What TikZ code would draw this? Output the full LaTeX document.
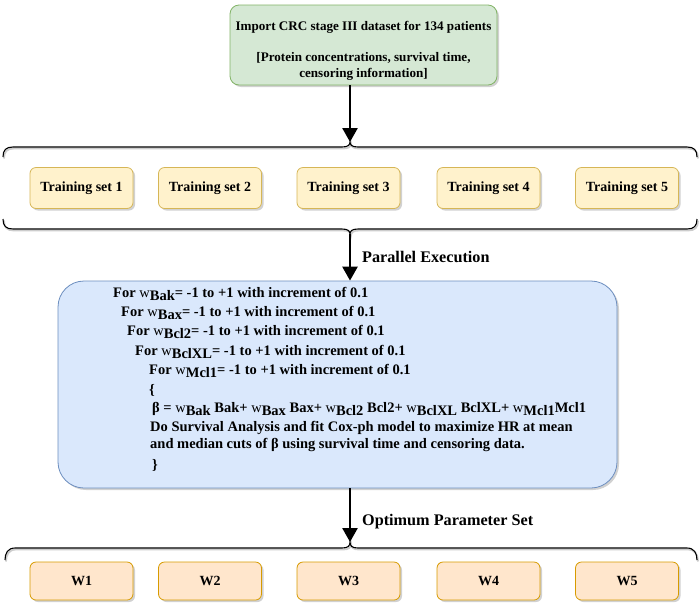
\documentclass[tikz,border=0pt]{standalone}
\usepackage{fontspec}
\setmainfont{Liberation Serif}
\usetikzlibrary{shadows,arrows.meta}
\definecolor{gfill}{HTML}{D5E8D4}
\definecolor{gline}{HTML}{82B366}
\definecolor{yfill}{HTML}{FFF2CC}
\definecolor{yline}{HTML}{D6B656}
\definecolor{bfill}{HTML}{DAE8FC}
\definecolor{bline}{HTML}{6C8EBF}
\definecolor{ofill}{HTML}{FFE6CC}
\definecolor{oline}{HTML}{D79B00}
\newcommand{\wsub}[1]{{\mdseries w}\raisebox{-3.5pt}{#1}}
\newcommand{\wlow}[1]{{\mdseries w}\raisebox{-2.8pt}{#1}}
\begin{document}
\begin{tikzpicture}[x=1pt,y=-1pt,
  font=\bfseries\fontsize{14}{16}\selectfont,
  shad/.style={drop shadow={shadow xshift=2pt,shadow yshift=-2pt,opacity=0.3,fill=black!60}},
  gbox/.style={draw=gline,fill=gfill,line width=0.8pt,rounded corners=9pt,shad,minimum width=267pt,minimum height=80pt,inner sep=0pt},
  tbox/.style={draw=yline,fill=yfill,line width=0.8pt,rounded corners=6pt,shad,minimum width=103pt,minimum height=41pt,inner sep=0pt},
  wbox/.style={draw=oline,fill=ofill,line width=0.8pt,rounded corners=6pt,shad,minimum width=103pt,minimum height=38pt,inner sep=0pt},
  bbox/.style={draw=bline,fill=bfill,line width=0.8pt,rounded corners=26pt,shad,minimum width=559pt,minimum height=207pt,inner sep=0pt},
  code/.style={anchor=base west,inner sep=0pt,font=\bfseries\fontsize{14.5}{16}\selectfont},
  lbl/.style={anchor=west,inner sep=0pt,font=\bfseries\fontsize{16.2}{18}\selectfont},
  brc/.style={line width=1.1pt,black,preaction={draw=black!20,line width=1.8pt,transform canvas={xshift=1pt,yshift=-1.5pt}}},
  arr/.style={line width=2.6pt,-{Triangle[length=14pt,width=15pt]}}]
\useasboundingbox (0,0) rectangle (700,606);

% top box
\node[gbox] (green) at (363.5,45) {};
\node[align=center,inner sep=0pt,font=\bfseries\fontsize{13.1}{16}\selectfont] (gtext) at (363.5,51)
  {Import CRC stage III dataset for 134 patients\\[15pt]
   [Protein concentrations, survival time,\\ censoring information]};

% training braces
\coordinate (tb) at (350,142);
\coordinate (bb) at (350,234);
\draw[brc] (3,157) .. controls (3,150) and (6,147) .. (13,147) -- (342,147)
  .. controls (348,147) and (350,145) .. (tb)
  .. controls (350,145) and (352,147) .. (358,147) -- (687,147)
  .. controls (694,147) and (697,150) .. (697,157);
\draw[brc] (3,219) .. controls (3,226) and (6,229) .. (13,229) -- (342,229)
  .. controls (348,229) and (350,231) .. (bb)
  .. controls (350,231) and (352,229) .. (358,229) -- (687,229)
  .. controls (694,229) and (697,226) .. (697,219);

% training sets
\node[tbox] (t1) at (81.5,188) {Training set 1};
\node[tbox] (t2) at (210,188) {Training set 2};
\node[tbox] (t3) at (348.5,188) {Training set 3};
\node[tbox] (t4) at (488.5,188) {Training set 4};
\node[tbox] (t5) at (627,188) {Training set 5};

% blue box
\node[bbox] (blue) at (337.5,384.5) {};
\node[code] (c1) at (113,297) {For \wsub{Bak}= -1 to +1 with increment of 0.1};
\node[code] (c2) at (121,316) {For \wsub{Bax}= -1 to +1 with increment of 0.1};
\node[code] (c3) at (127,335) {For \wsub{Bcl2}= -1 to +1 with increment of 0.1};
\node[code] (c4) at (135,355) {For \wsub{BclXL}= -1 to +1 with increment of 0.1};
\node[code] (c5) at (149,374) {For \wsub{Mcl1}= -1 to +1 with increment of 0.1};
\node[code] (c6) at (149,394) {\{};
\node[code] (c7) at (152,412.5) {β = \wlow{Bak} Bak+ \wlow{Bax} Bax+ \wlow{Bcl2} Bcl2+ \wlow{BclXL} BclXL+ \wlow{Mcl1}Mcl1};
\node[code] (c8) at (150,431) {Do Survival Analysis and fit Cox-ph model to maximize HR at mean};
\node[code] (c9) at (150,448) {and median cuts of β using survival time and censoring data.};
\node[code] (c10) at (152,469) {\}};

% W brace
\coordinate (wb) at (350,542);
\draw[brc] (5,560) .. controls (5,553) and (8,548) .. (15,548) -- (342,548)
  .. controls (348,548) and (350,546) .. (wb)
  .. controls (350,546) and (352,548) .. (358,548) -- (687,548)
  .. controls (694,548) and (697,553) .. (697,560);

% W boxes
\node[wbox] (w1) at (81.5,581) {W1};
\node[wbox] (w2) at (210,581) {W2};
\node[wbox] (w3) at (348.5,581) {W3};
\node[wbox] (w4) at (488.5,581) {W4};
\node[wbox] (w5) at (627,581) {W5};

% arrows
\draw[arr] (green.south -| tb) -- (tb);
\draw[arr] (bb) -- (blue.north -| bb);
\draw[arr] (blue.south -| wb) -- (wb);
\node[lbl] (pe) at (362,257) {Parallel Execution};
\node[lbl] (op) at (362,522) {Optimum Parameter Set};
\end{tikzpicture}
\end{document}
